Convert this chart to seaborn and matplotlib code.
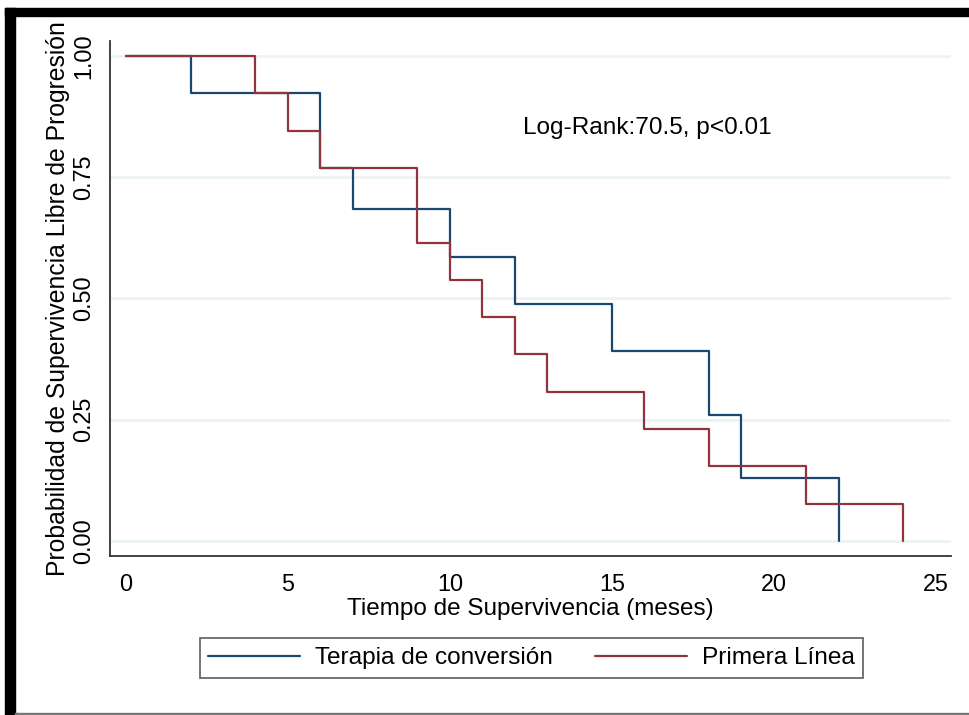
import numpy as np
import pandas as pd
import matplotlib
matplotlib.use("Agg")
import matplotlib.pyplot as plt
import seaborn as sns
from matplotlib.patches import Rectangle
from matplotlib.lines import Line2D

# Data (Kaplan-Meier step points)
conv_t = [0, 2, 6, 7, 10, 12, 15, 18, 19, 22]
conv_s = [1.0, 0.923, 0.769, 0.684, 0.586, 0.488, 0.391, 0.260, 0.130, 0.0]
prim_t = [0, 4, 5, 6, 9, 10, 11, 12, 13, 16, 18, 21, 24]
prim_s = [1.0, 0.923, 0.846, 0.769, 0.615, 0.538, 0.462, 0.385, 0.308, 0.231, 0.154, 0.077, 0.0]
groups = ["Terapia de conversión", "Primera Línea"]
colors = ["#1a476f", "#90353b"]
x_ticks = [0, 5, 10, 15, 20, 25]
y_ticks = [0.0, 0.25, 0.50, 0.75, 1.00]
y_ticklabels = ["0.00", "0.25", "0.50", "0.75", "1.00"]
annot = "Log-Rank:70.5, p<0.01"
xlabel = "Tiempo de Supervivencia (meses)"
ylabel = "Probabilidad de Supervivencia Libre de Progresión"

df = pd.concat([
    pd.DataFrame({"t": conv_t, "s": conv_s, "g": groups[0]}),
    pd.DataFrame({"t": prim_t, "s": prim_s, "g": groups[1]}),
], ignore_index=True)

sns.set_theme(style="white")
plt.rcParams["font.family"] = ["Liberation Sans", "DejaVu Sans"]
plt.rcParams["text.color"] = "black"
plt.rcParams["axes.labelcolor"] = "black"

fig = plt.figure(figsize=(9.69, 7.15), dpi=100)
fig.patch.set_facecolor("white")
ax = fig.add_axes([110/969, 1-556/715, (951-110)/969, (556-41)/715])

sns.lineplot(data=df, x="t", y="s", hue="g", palette=dict(zip(groups, colors)),
             hue_order=groups, drawstyle="steps-post", estimator=None, sort=False,
             linewidth=1.6, legend=False, ax=ax)

ax.set_xlim(-0.49, 25.47)
ax.set_ylim(-0.031, 1.031)
ax.set_yticks(y_ticks)
ax.set_yticklabels(y_ticklabels, rotation=90, va="center")
ax.set_xticks(x_ticks)
ax.yaxis.grid(True, color="#eaf2f3", linewidth=1.8)
ax.set_axisbelow(True)
for sp in ["top", "right"]:
    ax.spines[sp].set_visible(False)
for sp in ["left", "bottom"]:
    ax.spines[sp].set_color("#333333")
    ax.spines[sp].set_linewidth(1.3)
ax.tick_params(axis="both", which="major", direction="out", length=5.5, width=1.1,
               color="#333333", labelsize=16.8, labelcolor="black")
ax.tick_params(axis="y", pad=5)
ax.tick_params(axis="x", pad=7)

ax.set_xlabel(xlabel, fontsize=17.5, labelpad=1, color="black")
ax.set_ylabel(ylabel, fontsize=17.8, labelpad=2, color="black")

ax.text(12.27, 0.852, annot, fontsize=17.6, ha="left", va="center", color="black")

handles = [Line2D([], [], color=c, linewidth=1.6) for c in colors]
leg = fig.legend(handles, groups, loc="center", bbox_to_anchor=(531.5/969, 1-658/715),
                 ncol=2, fontsize=17.6, frameon=True, fancybox=False, handlelength=3.75,
                 handletextpad=0.6, columnspacing=1.75, borderpad=0.35, borderaxespad=0)
leg.get_frame().set_edgecolor("#333333")
leg.get_frame().set_linewidth(1.2)
for t in leg.get_texts():
    t.set_color("black")

# Frame decoration
fig.patches.append(Rectangle((5/969, 0), 10/969, 1-8/715, transform=fig.transFigure,
                             color="black", zorder=10))
fig.patches.append(Rectangle((5/969, 1-16/715), 1, 8/715, transform=fig.transFigure,
                             color="black", zorder=10))
fig.patches.append(Rectangle((15/969, 0.5/715), 1, 2/715, transform=fig.transFigure,
                             color="#777777", zorder=10))

fig.savefig("out.png", dpi=100)
